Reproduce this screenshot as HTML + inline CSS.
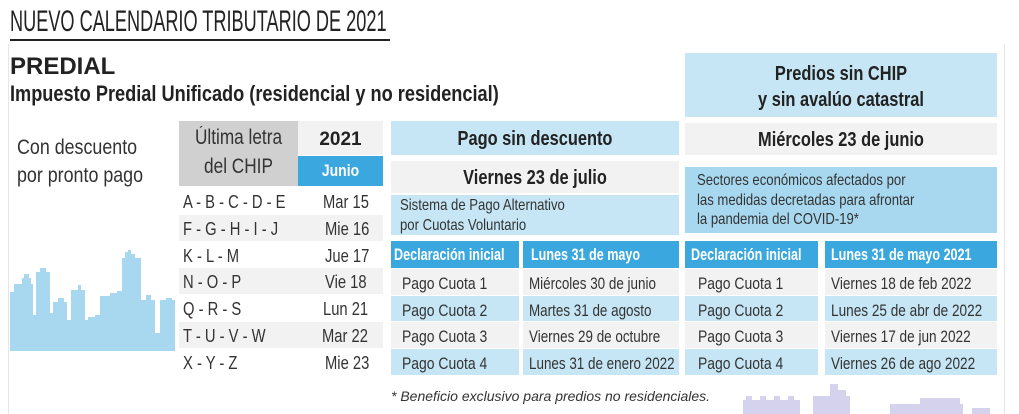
<!DOCTYPE html>
<html><head><meta charset="utf-8"><style>
*{margin:0;padding:0;box-sizing:border-box}
body{width:1019px;height:414px;background:#fff;position:relative;overflow:hidden;font-family:"Liberation Sans",sans-serif;color:#222}
.a{position:absolute}
.t{position:absolute;white-space:nowrap;transform:scaleX(.82);transform-origin:left center}
.c{position:absolute;white-space:nowrap;text-align:center;transform:scaleX(.82);transform-origin:center center}
.lb{background:#c6e6f5}
.gr{background:#f2f2f2}
.hb{background:#3aa7de;color:#fff;font-weight:bold}
</style></head><body>
<div class="a" style="left:8px;top:44px;width:1px;height:370px;background:#e6e6e6"></div>
<div class="a" style="left:1004px;top:44px;width:1px;height:370px;background:#e6e6e6"></div>
<div class="t" style="left:10px;top:6px;font-size:30px;line-height:32px;transform:scaleX(.605)">NUEVO CALENDARIO TRIBUTARIO DE 2021</div>
<div class="a" style="left:10px;top:39px;width:380px;height:2px;background:#222"></div>
<div class="a" style="left:10px;top:53px;font-size:24px;font-weight:bold;line-height:28px">PREDIAL</div>
<div class="t" style="left:10px;top:81px;font-size:22px;font-weight:bold;line-height:26px;transform:scaleX(.826)">Impuesto Predial Unificado (residencial y no residencial)</div>

<div class="t" style="left:17px;top:134px;font-size:21px;line-height:28px;color:#333;transform:scaleX(.85)">Con descuento<br>por pronto pago</div>
<svg class="a" style="left:0;top:0" width="1019" height="414">
<polygon fill="#a8d8ef" points="10,351 10,292 14,292 14,284 22,284 22,278 24,278 24,274 29,274 29,278 31,278 31,284 33,284 33,315 36,315 36,272 40,272 40,268 46,268 46,272 50,272 50,313 53,313 53,302 58,302 58,298 64,298 64,302 67,302 67,320 71,320 71,290 78,290 78,285 81,285 81,290 85,290 85,320 88,320 88,317 95,317 95,315 100,315 100,296 110,296 110,293 117,293 117,291 122,291 122,258 125,258 125,252 128,252 128,250 131,250 131,254 135,254 135,258 141,258 141,300 146,300 146,295 151,295 151,300 155,300 155,333 160,333 160,300 166,300 166,298 172,298 172,300 175,300 175,351"/>
<g fill="#d4d2ec"><rect x="743" y="400" width="57" height="14"/><rect x="746" y="396" width="6" height="4"/><rect x="760" y="396" width="6" height="4"/><rect x="774" y="396" width="6" height="4"/><rect x="788" y="396" width="6" height="4"/><rect x="813" y="396" width="37" height="18"/><rect x="830" y="384" width="8" height="12"/><rect x="838" y="390" width="8" height="6"/><rect x="890" y="404" width="73" height="10"/><rect x="920" y="398" width="40" height="6"/><rect x="972" y="408" width="18" height="6"/></g>
</svg>

<!-- left table -->
<div class="a" style="left:179px;top:121px;width:119px;height:65px;background:#d0d0d0"></div>
<div class="c" style="left:179px;top:123px;width:119px;font-size:21px;line-height:29px;color:#333">Última letra<br>del CHIP</div>
<div class="a gr" style="left:298px;top:121px;width:85px;height:34px"></div>
<div class="a" style="left:298px;top:129px;width:85px;text-align:center;font-size:19px;font-weight:bold;line-height:22px">2021</div>
<div class="a hb" style="left:298px;top:156px;width:85px;height:30px"></div>
<div class="c" style="left:298px;top:160px;width:85px;font-size:17px;font-weight:bold;color:#fff;line-height:22px">Junio</div>
<div class="a gr" style="left:179px;top:215px;width:204px;height:26px"></div>
<div class="a gr" style="left:179px;top:268px;width:204px;height:26px"></div>
<div class="a gr" style="left:179px;top:322px;width:204px;height:26px"></div>
<div style="position:absolute;left:183px;top:189px;font-size:18px;line-height:26.8px;color:#333;width:200px">
<div style="position:relative;height:26.8px"><span class="t" style="left:0">A - B - C - D - E</span><span class="t" style="left:140px">Mar 15</span></div>
<div style="position:relative;height:26.8px"><span class="t" style="left:0">F - G - H - I - J</span><span class="t" style="left:142px">Mie 16</span></div>
<div style="position:relative;height:26.8px"><span class="t" style="left:0">K - L - M</span><span class="t" style="left:142px">Jue 17</span></div>
<div style="position:relative;height:26.8px"><span class="t" style="left:0">N - O - P</span><span class="t" style="left:142px">Vie 18</span></div>
<div style="position:relative;height:26.8px"><span class="t" style="left:0">Q - R - S</span><span class="t" style="left:140px">Lun 21</span></div>
<div style="position:relative;height:26.8px"><span class="t" style="left:0">T - U - V - W</span><span class="t" style="left:139px">Mar 22</span></div>
<div style="position:relative;height:26.8px"><span class="t" style="left:0">X - Y - Z</span><span class="t" style="left:142px">Mie 23</span></div>
</div>

<!-- middle -->
<div class="a lb" style="left:391px;top:121px;width:288px;height:34px"></div>
<div class="c" style="left:391px;top:127px;width:288px;font-size:20px;font-weight:bold;line-height:24px">Pago sin descuento</div>
<div class="a gr" style="left:391px;top:161px;width:288px;height:32px"></div>
<div class="c" style="left:391px;top:166px;width:288px;font-size:20px;font-weight:bold;line-height:24px">Viernes 23 de julio</div>
<div class="a lb" style="left:391px;top:195px;width:288px;height:40px"></div>
<div class="t" style="left:400px;top:196px;font-size:16px;line-height:20px;color:#333">Sistema de Pago Alternativo<br>por Cuotas Voluntario</div>
<div class="a hb" style="left:391px;top:241px;width:128px;height:27px"></div>
<div class="a hb" style="left:523px;top:241px;width:156px;height:27px"></div>
<div class="t" style="left:394px;top:244px;font-size:17px;font-weight:bold;color:#fff;line-height:22px;transform:scaleX(.74)">Declaración inicial</div>
<div class="t" style="left:531px;top:244px;font-size:17px;font-weight:bold;color:#fff;line-height:22px;transform:scaleX(.74)">Lunes 31 de mayo</div>
<div class="a gr" style="left:391px;top:269px;width:128px;height:26px"></div><div class="a gr" style="left:523px;top:269px;width:156px;height:26px"></div>
<div class="a lb" style="left:391px;top:296px;width:128px;height:25px"></div><div class="a lb" style="left:523px;top:296px;width:156px;height:25px"></div>
<div class="a gr" style="left:391px;top:322px;width:128px;height:26px"></div><div class="a gr" style="left:523px;top:322px;width:156px;height:26px"></div>
<div class="a lb" style="left:391px;top:349px;width:128px;height:26px"></div><div class="a lb" style="left:523px;top:349px;width:156px;height:26px"></div>
<div class="t" style="left:402px;top:271px;font-size:17px;line-height:26.5px;color:#333">Pago Cuota 1<br>Pago Cuota 2<br>Pago Cuota 3<br>Pago Cuota 4</div>
<div class="t" style="left:529px;top:271px;font-size:17px;line-height:26.5px;color:#333;transform:scaleX(.79)">Miércoles 30 de junio<br>Martes 31 de agosto<br>Viernes 29 de octubre<br>Lunes 31 de enero 2022</div>
<div class="a" style="left:391px;top:387px;font-size:14px;font-style:italic;line-height:18px;color:#333">* Beneficio exclusivo para predios no residenciales.</div>

<!-- right -->
<div class="a lb" style="left:685px;top:53px;width:312px;height:64px"></div>
<div class="c" style="left:685px;top:61px;width:312px;font-size:20px;font-weight:bold;line-height:26px">Predios sin CHIP<br>y sin avalúo catastral</div>
<div class="a gr" style="left:685px;top:123px;width:312px;height:32px"></div>
<div class="c" style="left:685px;top:128px;width:312px;font-size:20px;font-weight:bold;line-height:24px">Miércoles 23 de junio</div>
<div class="a" style="left:685px;top:167px;width:312px;height:66px;background:#a8d8ef"></div>
<div class="t" style="left:697px;top:171px;font-size:16px;line-height:19.5px;color:#333">Sectores económicos afectados por<br>las medidas decretadas para afrontar<br>la pandemia del COVID-19*</div>
<div class="a hb" style="left:685px;top:241px;width:133px;height:27px"></div>
<div class="a hb" style="left:825px;top:241px;width:172px;height:27px"></div>
<div class="t" style="left:691px;top:244px;font-size:17px;font-weight:bold;color:#fff;line-height:22px;transform:scaleX(.74)">Declaración inicial</div>
<div class="t" style="left:831px;top:244px;font-size:17px;font-weight:bold;color:#fff;line-height:22px;transform:scaleX(.74)">Lunes 31 de mayo 2021</div>
<div class="a gr" style="left:685px;top:269px;width:133px;height:26px"></div><div class="a gr" style="left:825px;top:269px;width:172px;height:26px"></div>
<div class="a lb" style="left:685px;top:296px;width:133px;height:25px"></div><div class="a lb" style="left:825px;top:296px;width:172px;height:25px"></div>
<div class="a gr" style="left:685px;top:322px;width:133px;height:26px"></div><div class="a gr" style="left:825px;top:322px;width:172px;height:26px"></div>
<div class="a lb" style="left:685px;top:349px;width:133px;height:26px"></div><div class="a lb" style="left:825px;top:349px;width:172px;height:26px"></div>
<div class="t" style="left:698px;top:271px;font-size:17px;line-height:26.5px;color:#333">Pago Cuota 1<br>Pago Cuota 2<br>Pago Cuota 3<br>Pago Cuota 4</div>
<div class="t" style="left:831px;top:271px;font-size:17px;line-height:26.5px;color:#333;transform:scaleX(.8)">Viernes 18 de feb 2022<br>Lunes 25 de abr de 2022<br>Viernes 17 de jun 2022<br>Viernes 26 de ago 2022</div>
</body></html>
